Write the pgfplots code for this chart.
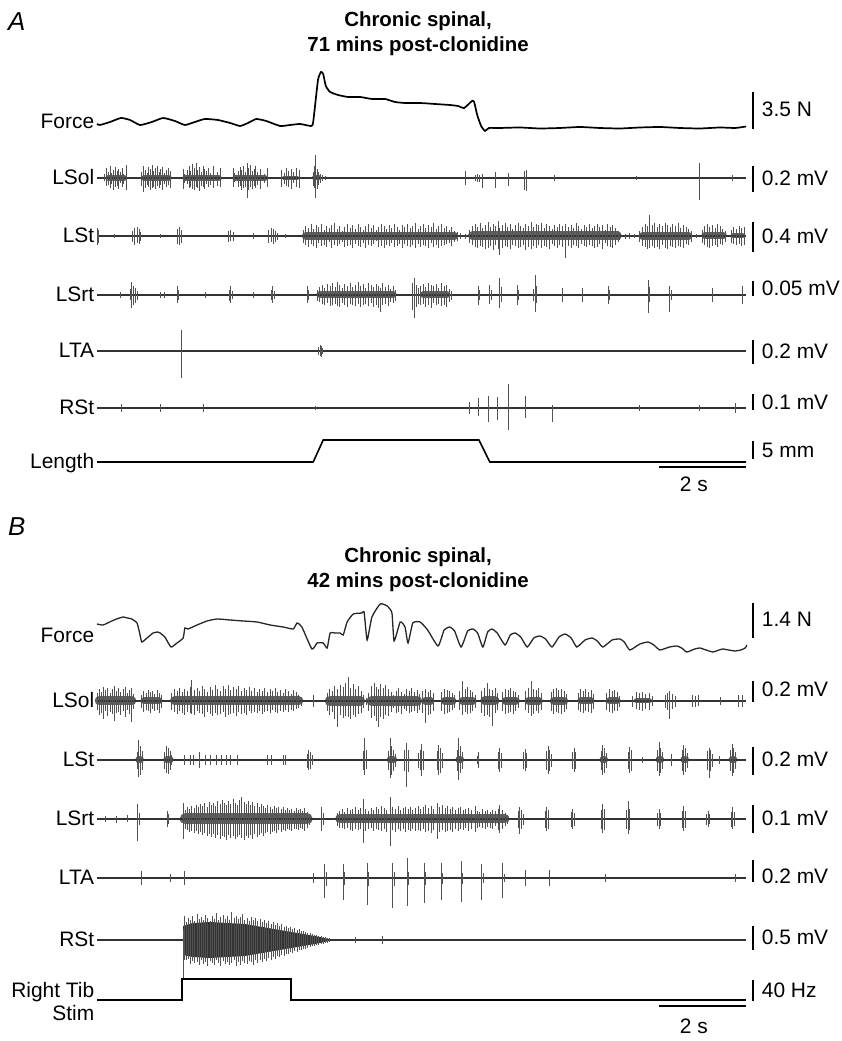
\documentclass[border=0pt]{standalone}
\usepackage{fontspec}
\setmainfont{Liberation Sans}
\usepackage{pgfplots}
\usepackage{pgfplotstable}
\pgfplotsset{compat=1.18}
\tikzset{
  lab/.style={font=\fontsize{21}{24}\selectfont, inner sep=0pt},
  ttl/.style={font=\bfseries\fontsize{20.5}{24}\selectfont, inner sep=0pt, anchor=base},
  pnl/.style={font=\itshape\fontsize{26}{30}\selectfont, inner sep=0pt, anchor=base west},
}

% Slow traces: t = time (s), y = vertical position of the trace
\pgfplotstableread[row sep=\\]{t y\\
0.00 -124\\ 0.07 -125\\ 0.30 -122\\ 0.55 -118\\ 0.76 -120\\ 0.99 -125\\ 1.26 -122\\ 1.52 -118\\
1.79 -121\\ 2.02 -125\\ 2.25 -122\\ 2.48 -119\\ 2.78 -120\\ 3.06 -123\\ 3.29 -126\\ 3.47 -123\\
3.66 -119\\ 3.89 -121\\ 4.21 -126\\ 4.44 -125\\ 4.67 -124\\ 4.92 -126\\ 4.97 -122\\ 5.08 -80\\
5.15 -72\\ 5.20 -74\\ 5.26 -86\\ 5.36 -92\\ 5.54 -95\\ 5.77 -97\\ 6.05 -97\\ 6.32 -99\\ 6.62 -99\\
6.85 -102\\ 7.08 -103\\ 7.43 -103\\ 7.77 -104\\ 8.11 -105\\ 8.30 -106\\ 8.44 -108\\ 8.62 -101\\
8.67 -102\\ 8.74 -115\\ 8.83 -126\\ 8.92 -131\\ 9.01 -128\\ 9.26 -128\\ 9.72 -127.5\\ 10.18 -128.5\\
10.64 -128\\ 11.10 -127\\ 11.56 -128\\ 12.02 -128.5\\ 12.48 -127.5\\ 12.94 -127\\ 13.40 -128\\
13.86 -128.5\\ 14.32 -127.5\\ 14.67 -128\\ 14.92 -126.5\\
}\AForce

\pgfplotstableread[row sep=\\]{t y\\
0.00 -462\\ 4.97 -462\\ 5.20 -440\\ 8.78 -440\\ 9.03 -462\\ 14.92 -462\\
}\ALength

\pgfplotstableread[row sep=\\]{t y\\
0.00 -624\\ 0.14 -625\\ 0.34 -621\\ 0.45 -619\\ 0.60 -617\\ 0.70 -618\\ 0.80 -619\\ 0.92 -623\\
0.98 -633\\ 1.03 -642\\ 1.15 -638\\ 1.29 -633\\ 1.40 -632\\ 1.45 -633\\ 1.56 -637\\ 1.70 -647\\
1.84 -643\\ 1.98 -638\\ 2.02 -628\\ 2.09 -629\\ 2.30 -625\\ 2.53 -621\\ 2.76 -619\\ 3.06 -620\\
3.36 -621\\ 3.68 -622\\ 3.98 -625\\ 4.28 -627\\ 4.51 -629\\ 4.60 -623\\ 4.71 -627\\ 4.94 -649\\
5.06 -643\\ 5.20 -643\\ 5.29 -648\\ 5.36 -633\\ 5.47 -633\\ 5.59 -633\\ 5.66 -635\\ 5.75 -622\\
5.89 -614\\ 6.09 -613\\ 6.14 -612\\ 6.21 -640\\ 6.32 -617\\ 6.51 -604\\ 6.67 -606\\ 6.78 -613\\
6.83 -641\\ 6.97 -622\\ 7.08 -627\\ 7.15 -643\\ 7.26 -623\\ 7.43 -622\\ 7.60 -630\\ 7.84 -646\\
7.98 -630\\ 8.11 -627\\ 8.22 -631\\ 8.37 -647\\ 8.52 -631\\ 8.64 -629\\ 8.75 -633\\ 8.87 -647\\
8.98 -632\\ 9.08 -629\\ 9.20 -633\\ 9.38 -645\\ 9.50 -635\\ 9.61 -633\\ 9.74 -637\\ 9.89 -647\\
10.04 -638\\ 10.18 -636\\ 10.31 -639\\ 10.46 -647\\ 10.62 -637\\ 10.76 -634\\ 10.90 -638\\
11.03 -647\\ 11.22 -640\\ 11.38 -638\\ 11.50 -641\\ 11.63 -647\\ 11.84 -640\\ 12.02 -639\\
12.12 -642\\ 12.25 -650\\ 12.48 -644\\ 12.67 -642\\ 12.80 -645\\ 12.94 -650\\ 13.16 -647\\
13.33 -646\\ 13.44 -648\\ 13.56 -652\\ 13.74 -649\\ 13.86 -648\\ 14.00 -650\\ 14.16 -652\\
14.30 -650\\ 14.39 -649\\ 14.52 -650\\ 14.67 -651\\ 14.80 -650\\ 14.90 -648\\ 14.94 -645\\
}\BForce

\pgfplotstableread[row sep=\\]{t y\\
0.00 -1000\\ 1.96 -1000\\ 1.96 -979\\ 4.46 -979\\ 4.46 -1000\\ 14.92 -1000\\
}\BStim

% EMG spikes: t = time (s), u / d = excursion above / below the baseline
\pgfplotstableread[row sep=\\]{t u d\\
0.18 4 3\\ 0.22 10 8\\ 0.26 6 7\\ 0.30 12 10\\ 0.34 5 6\\ 0.38 8 12\\ 0.42 11 9\\ 0.46 7 8\\
0.50 9 11\\ 0.54 6 5\\ 0.58 10 9\\ 0.62 4 6\\ 0.67 13 12\\
1.03 6 8\\ 1.07 12 14\\ 1.11 8 10\\ 1.15 5 7\\ 1.19 11 9\\ 1.23 9 12\\ 1.27 13 10\\ 1.31 7 9\\
1.35 10 11\\ 1.39 12 8\\ 1.43 6 10\\ 1.47 9 7\\ 1.51 11 12\\ 1.55 5 6\\ 1.59 8 9\\ 1.64 10 7\\ 1.70 7 10\\
1.98 9 11\\ 2.02 4 5\\ 2.08 8 6\\ 2.12 12 10\\ 2.16 7 9\\ 2.20 14 11\\ 2.24 10 12\\ 2.28 15 9\\
2.32 8 10\\ 2.36 11 13\\ 2.40 6 8\\ 2.44 12 9\\ 2.48 9 11\\ 2.52 7 6\\ 2.56 10 9\\ 2.62 5 7\\
2.68 12 10\\ 2.76 6 8\\ 2.85 10 9\\
3.13 10 9\\ 3.17 5 4\\ 3.25 7 9\\ 3.29 11 8\\ 3.33 8 12\\ 3.37 12 10\\ 3.41 6 9\\ 3.45 15 20\\
3.49 10 12\\ 3.53 13 9\\ 3.57 7 11\\ 3.61 9 8\\ 3.65 12 10\\ 3.70 6 7\\ 3.76 9 11\\ 3.84 4 5\\ 3.91 10 9\\
4.25 8 9\\ 4.30 5 6\\ 4.36 10 8\\ 4.41 7 9\\ 4.46 9 11\\ 4.52 6 5\\ 4.58 10 9\\ 4.65 8 10\\
4.97 6 8\\ 5.01 12 10\\ 5.03 23 20\\ 5.06 9 11\\ 5.10 6 7\\ 5.14 4 5\\ 5.19 3 3\\ 5.25 2 2\\
8.46 7 7\\ 8.69 3 3\\ 8.74 4 4\\ 8.80 3 4\\ 8.87 4 10\\ 9.17 6 10\\ 9.47 5 8\\ 9.82 7 12\\
9.87 8 13\\ 10.51 3 3\\ 12.41 2 2\\ 13.86 15 22\\ 14.60 3 3\\
}\ALSol

\pgfplotstableread[row sep=\\]{t u d\\
0.00 8 9\\ 0.04 6 7\\ 0.40 2 2\\ 0.82 5 6\\ 0.87 8 9\\ 0.92 9 7\\ 0.97 7 8\\ 1.01 4 5\\ 1.45 2 2\\
1.84 7 8\\ 1.89 9 9\\ 1.94 6 7\\ 3.03 5 6\\ 3.08 6 5\\ 3.13 4 5\\ 3.59 3 3\\ 3.95 6 7\\ 4.00 8 6\\
4.05 7 8\\ 4.10 5 6\\ 4.15 3 4\\ 4.34 2 2\\
4.74 6 7\\ 4.80 10 9\\ 4.86 8 11\\ 4.92 12 8\\ 4.98 7 10\\ 5.04 11 12\\ 5.10 9 7\\ 5.16 12 10\\
5.22 6 9\\ 5.28 10 11\\ 5.34 8 6\\ 5.40 11 12\\ 5.46 13 9\\ 5.52 7 10\\ 5.58 10 8\\ 5.64 5 6\\
5.70 9 11\\ 5.76 12 10\\ 5.82 8 9\\ 5.88 11 12\\ 5.94 7 8\\ 6.00 12 10\\ 6.06 9 11\\ 6.12 6 7\\
6.18 10 12\\ 6.24 12 9\\ 6.30 8 10\\ 6.36 11 8\\ 6.42 6 5\\ 6.48 9 11\\ 6.54 12 10\\ 6.60 10 12\\
6.66 7 9\\ 6.72 11 10\\ 6.78 8 7\\ 6.84 12 11\\ 6.90 9 10\\ 6.96 6 8\\ 7.02 11 12\\ 7.08 9 8\\
7.14 12 10\\ 7.20 8 11\\ 7.26 10 9\\ 7.32 13 12\\ 7.38 7 8\\ 7.44 10 11\\ 7.50 12 9\\ 7.56 8 10\\
7.62 11 12\\ 7.68 9 7\\ 7.74 13 11\\ 7.80 7 9\\ 7.86 10 12\\ 7.92 12 10\\ 7.98 8 9\\ 8.04 10 8\\
8.10 6 7\\ 8.16 9 10\\ 8.22 5 6\\ 8.28 4 5\\ 8.36 3 3\\ 8.46 2 3\\
8.57 6 7\\ 8.63 10 9\\ 8.69 12 11\\ 8.75 9 12\\ 8.81 13 10\\ 8.87 8 11\\ 8.93 11 13\\ 8.99 14 12\\
9.05 9 10\\ 9.11 12 14\\ 9.17 10 9\\ 9.23 15 13\\ 9.26 8 19\\ 9.32 11 12\\ 9.38 13 10\\ 9.44 9 11\\
9.50 12 13\\ 9.56 7 9\\ 9.62 11 10\\ 9.68 13 12\\ 9.74 10 11\\ 9.80 8 9\\ 9.86 12 14\\ 9.92 10 11\\
9.98 14 13\\ 10.04 9 10\\ 10.10 12 12\\ 10.16 11 9\\ 10.22 13 12\\ 10.28 8 10\\ 10.34 12 11\\
10.40 10 13\\ 10.46 7 8\\ 10.52 11 10\\ 10.58 9 12\\ 10.64 12 9\\ 10.70 10 11\\ 10.78 12 22\\
10.84 9 10\\ 10.90 11 12\\ 10.96 8 9\\ 11.02 13 10\\ 11.08 10 12\\ 11.14 7 8\\ 11.20 11 10\\
11.26 9 11\\ 11.32 12 9\\ 11.38 8 10\\ 11.44 10 12\\ 11.50 12 11\\ 11.56 9 8\\ 11.62 11 13\\
11.68 6 7\\ 11.74 12 10\\ 11.80 9 11\\ 11.86 11 12\\ 11.92 8 9\\ 11.98 5 6\\ 12.02 3 4\\
12.14 2 3\\ 12.25 3 3\\ 12.36 2 2\\
12.48 5 6\\ 12.54 9 10\\ 12.60 12 11\\ 12.66 10 13\\ 12.71 21 12\\ 12.76 11 10\\ 12.82 13 12\\
12.88 9 11\\ 12.94 12 13\\ 13.00 10 9\\ 13.06 13 12\\ 13.12 11 13\\ 13.18 9 10\\ 13.24 12 11\\
13.30 10 12\\ 13.36 13 10\\ 13.42 8 11\\ 13.48 11 12\\ 13.54 9 8\\ 13.60 7 9\\ 13.66 5 6\\ 13.78 2 2\\
13.91 6 7\\ 13.97 10 9\\ 14.03 12 11\\ 14.09 9 12\\ 14.15 11 10\\ 14.21 8 9\\ 14.27 12 11\\
14.33 10 8\\ 14.39 7 9\\ 14.45 5 6\\ 14.58 6 7\\ 14.64 9 8\\ 14.70 7 9\\ 14.76 10 8\\ 14.82 8 10\\ 14.88 9 9\\
}\ALSt

\pgfplotstableread[row sep=\\]{t u d\\
0.53 3 3\\ 0.76 6 5\\ 0.80 13 13\\ 0.84 9 10\\ 0.88 7 8\\ 0.92 4 5\\ 1.45 3 3\\ 1.55 3 3\\
1.84 9 8\\ 1.88 5 5\\ 2.50 3 3\\ 3.04 5 6\\ 3.08 9 8\\ 3.12 4 4\\ 3.60 3 3\\ 4.00 5 5\\ 4.03 9 8\\
4.07 4 4\\ 4.83 9 8\\ 4.87 5 5\\
5.06 5 6\\ 5.12 8 7\\ 5.18 10 9\\ 5.24 7 10\\ 5.30 11 8\\ 5.36 9 11\\ 5.42 12 10\\ 5.48 8 9\\
5.52 13 11\\ 5.58 10 12\\ 5.64 7 8\\ 5.70 11 10\\ 5.76 9 12\\ 5.82 12 9\\ 5.88 8 10\\ 5.94 10 11\\
6.00 13 9\\ 6.06 9 12\\ 6.12 11 10\\ 6.18 7 9\\ 6.24 12 11\\ 6.30 10 8\\ 6.36 8 12\\ 6.42 11 10\\
6.48 9 13\\ 6.51 7 17\\ 6.57 12 10\\ 6.63 8 9\\ 6.69 10 11\\ 6.75 6 7\\ 6.81 9 8\\ 6.87 5 6\\
7.26 12 15\\ 7.30 17 23\\ 7.34 10 12\\ 7.38 7 9\\
7.44 9 10\\ 7.50 11 9\\ 7.56 8 12\\ 7.62 12 10\\ 7.68 10 13\\ 7.74 9 8\\ 7.80 11 10\\ 7.86 7 9\\
7.92 12 11\\ 7.98 9 10\\ 8.04 10 12\\ 8.10 6 7\\ 8.16 4 5\\
8.76 9 10\\ 8.80 5 5\\ 9.03 10 9\\ 9.07 5 5\\ 9.26 17 13\\ 9.30 8 7\\ 9.66 10 10\\ 9.70 5 5\\
10.03 6 6\\ 10.07 20 17\\ 10.11 9 8\\ 10.71 7 7\\ 11.17 7 7\\ 11.75 9 9\\ 11.79 5 5\\
12.67 15 18\\ 12.71 8 7\\ 13.17 9 17\\ 13.21 5 5\\ 14.14 7 7\\ 14.85 9 9\\
}\ALSrt

\pgfplotstableread[row sep=\\]{t u d\\
1.95 21 27\\ 5.10 4 4\\ 5.13 6 5\\ 5.16 5 6\\ 5.19 3 3\\
}\ALTA

\pgfplotstableread[row sep=\\]{t u d\\
0.57 4 4\\ 1.45 4 4\\ 2.44 4 4\\ 5.03 2 2\\ 8.57 6 6\\ 8.76 10 8\\ 9.01 12 14\\ 9.20 11 12\\
9.45 24 22\\ 9.84 12 10\\ 10.48 3 14\\ 12.48 3 3\\ 13.86 3 3\\ 14.67 5 5\\
}\ARSt

\pgfplotstableread[row sep=\\]{t u d\\
0.00 8 9\\ 0.05 12 14\\ 0.10 9 12\\ 0.15 14 18\\ 0.20 11 10\\ 0.25 13 15\\ 0.30 8 11\\ 0.35 12 13\\
0.40 15 20\\ 0.45 10 12\\ 0.50 13 11\\ 0.55 9 14\\ 0.60 12 10\\ 0.65 14 16\\ 0.70 8 9\\ 0.75 11 13\\
0.80 13 21\\ 0.85 7 8\\
1.03 6 7\\ 1.08 10 11\\ 1.13 8 9\\ 1.18 11 10\\ 1.23 9 12\\ 1.28 10 8\\ 1.33 7 10\\ 1.38 11 9\\
1.43 8 12\\ 1.48 6 7\\
1.72 8 9\\ 1.78 12 11\\ 1.84 10 13\\ 1.90 13 10\\ 1.96 9 12\\ 2.02 12 14\\ 2.08 10 11\\ 2.14 14 12\\
2.18 21 13\\ 2.24 11 14\\ 2.30 13 10\\ 2.36 10 12\\ 2.42 15 13\\ 2.48 12 16\\ 2.54 9 11\\ 2.60 14 13\\
2.66 11 15\\ 2.72 16 12\\ 2.78 12 14\\ 2.84 10 13\\ 2.90 15 11\\ 2.96 12 16\\ 3.02 16 14\\ 3.08 11 13\\
3.14 14 12\\ 3.20 12 15\\ 3.26 15 11\\ 3.32 10 13\\ 3.38 13 12\\ 3.44 11 14\\ 3.50 14 10\\ 3.56 10 12\\
3.62 13 11\\ 3.68 9 12\\ 3.74 12 10\\ 3.80 10 13\\ 3.86 13 11\\ 3.92 9 10\\ 3.98 12 12\\ 4.04 10 9\\
4.10 13 11\\ 4.16 9 12\\ 4.22 11 10\\ 4.28 8 11\\ 4.34 12 9\\ 4.40 10 11\\ 4.46 7 9\\ 4.52 11 10\\
4.58 9 8\\ 4.64 6 7\\ 4.70 4 5\\ 4.97 6 6\\
5.29 8 10\\ 5.35 12 14\\ 5.41 10 11\\ 5.47 15 18\\ 5.54 12 26\\ 5.60 16 14\\ 5.66 14 17\\ 5.72 18 15\\
5.77 24 16\\ 5.83 13 18\\ 5.89 17 14\\ 5.95 12 16\\ 6.01 15 13\\ 6.07 10 12\\ 6.13 6 7\\ 6.19 3 4\\
6.25 8 10\\ 6.31 15 17\\ 6.37 18 15\\ 6.43 14 20\\ 6.46 12 26\\ 6.52 17 16\\ 6.58 13 18\\ 6.64 16 14\\
6.70 12 15\\ 6.76 9 11\\ 6.82 6 7\\ 6.88 10 12\\ 6.94 13 11\\ 7.00 9 13\\ 7.06 7 8\\ 7.12 12 10\\
7.18 10 12\\ 7.24 13 11\\ 7.30 9 10\\ 7.36 11 12\\ 7.42 7 9\\
7.49 10 12\\ 7.55 12 22\\ 7.61 9 14\\ 7.67 11 13\\ 7.73 8 10\\
7.93 9 10\\ 7.99 12 13\\ 8.05 11 12\\ 8.11 10 11\\ 8.17 8 9\\ 8.22 6 7\\
8.34 10 9\\ 8.40 20 14\\ 8.46 12 11\\ 8.52 14 13\\ 8.58 11 12\\ 8.64 9 10\\ 8.69 6 7\\
8.85 10 12\\ 8.91 13 15\\ 8.97 18 14\\ 9.03 12 16\\ 9.09 11 25\\ 9.15 13 12\\ 9.20 8 9\\
9.33 9 10\\ 9.39 12 13\\ 9.45 11 12\\ 9.51 13 11\\ 9.57 10 13\\ 9.63 9 10\\ 9.68 6 7\\
9.86 10 9\\ 9.92 13 12\\ 9.98 20 15\\ 10.04 12 13\\ 10.10 11 10\\ 10.16 13 12\\ 10.22 8 9\\
10.44 9 10\\ 10.50 12 13\\ 10.56 13 11\\ 10.62 11 12\\ 10.68 12 13\\ 10.74 10 11\\ 10.80 7 8\\
11.06 8 9\\ 11.12 12 11\\ 11.18 10 12\\ 11.24 12 10\\ 11.30 9 11\\ 11.36 11 12\\ 11.42 7 8\\
11.72 8 9\\ 11.78 12 11\\ 11.84 10 12\\ 11.90 11 10\\ 11.96 9 10\\ 12.02 5 6\\
12.32 5 6\\ 12.40 9 8\\ 12.47 8 9\\ 12.54 9 10\\ 12.62 7 8\\ 12.70 8 9\\ 12.76 5 5\\
13.06 6 7\\ 13.12 8 9\\ 13.15 10 18\\ 13.22 7 8\\ 13.30 5 6\\ 13.70 6 6\\ 13.76 5 6\\ 13.82 6 5\\
14.34 4 4\\ 14.74 6 6\\ 14.85 6 6\\
}\BLSol

\pgfplotstableread[row sep=\\]{t u d\\
0.92 8 9\\ 0.96 20 17\\ 1.00 14 15\\ 1.04 9 10\\ 1.56 8 9\\ 1.60 14 13\\ 1.64 12 14\\ 1.68 9 10\\
1.72 5 5\\ 2.02 5 5\\ 2.14 5 5\\ 2.22 5 5\\ 2.35 8 8\\ 2.50 5 5\\ 2.62 5 5\\ 2.75 5 5\\ 2.87 5 5\\
2.97 5 5\\ 3.08 5 5\\ 3.22 5 5\\ 3.93 5 5\\ 4.02 5 5\\ 4.28 5 5\\ 4.34 5 5\\
4.83 6 8\\ 4.87 10 10\\ 4.91 8 9\\ 4.95 5 5\\ 6.12 9 10\\ 6.16 22 15\\ 6.20 10 9\\
6.70 9 10\\ 6.74 22 18\\ 6.78 14 15\\ 6.82 10 11\\ 6.86 6 7\\ 7.08 10 11\\ 7.12 17 27\\ 7.16 10 12\\
7.40 7 8\\ 7.43 10 10\\ 7.47 16 16\\ 7.51 9 10\\ 7.82 9 10\\ 7.86 15 15\\ 7.90 12 13\\ 7.94 7 8\\
8.28 10 11\\ 8.32 22 20\\ 8.36 14 13\\ 8.40 8 9\\ 8.74 4 4\\ 8.78 8 8\\ 9.22 8 9\\ 9.26 12 12\\
9.30 7 8\\ 9.80 8 9\\ 9.84 11 11\\ 9.88 7 8\\ 10.33 9 10\\ 10.37 14 14\\ 10.41 10 11\\ 10.45 6 7\\
10.93 8 9\\ 10.97 12 12\\ 11.01 8 9\\ 11.59 9 10\\ 11.63 15 15\\ 11.67 12 13\\ 11.71 7 8\\
12.21 8 9\\ 12.25 13 13\\ 12.29 10 11\\ 12.53 3 3\\ 12.88 10 11\\ 12.92 18 16\\ 12.96 12 13\\
13.00 8 9\\ 13.20 6 6\\ 13.45 10 11\\ 13.49 15 15\\ 13.53 12 12\\ 13.57 7 8\\ 14.03 9 10\\
14.07 12 18\\ 14.11 10 11\\ 14.15 6 7\\ 14.32 4 4\\ 14.56 10 11\\ 14.60 16 16\\ 14.64 12 13\\ 14.68 8 9\\
}\BLSt

\pgfplotstableread[row sep=\\]{t u d\\
0.20 3 3\\ 0.45 3 4\\ 0.70 4 3\\ 0.94 15 22\\ 0.98 6 6\\ 1.61 8 8\\ 1.65 5 5\\
1.98 16 20\\ 2.03 9 10\\ 2.08 12 11\\ 2.13 10 13\\ 2.18 13 12\\ 2.23 11 14\\ 2.28 14 12\\ 2.33 12 15\\
2.38 15 13\\ 2.43 13 16\\ 2.48 16 14\\ 2.53 12 17\\ 2.58 17 15\\ 2.63 14 18\\ 2.68 16 15\\ 2.73 13 19\\
2.78 18 16\\ 2.83 15 20\\ 2.88 19 17\\ 2.93 16 18\\ 2.98 14 21\\ 3.03 18 16\\ 3.08 15 19\\ 3.13 20 17\\
3.18 16 20\\ 3.23 14 18\\ 3.28 19 16\\ 3.33 22 19\\ 3.38 17 21\\ 3.43 15 17\\ 3.48 18 19\\ 3.53 14 16\\
3.58 17 20\\ 3.63 13 15\\ 3.68 16 18\\ 3.73 12 16\\ 3.78 15 14\\ 3.83 13 17\\ 3.88 11 14\\ 3.93 14 13\\
3.98 12 15\\ 4.03 10 13\\ 4.08 13 12\\ 4.13 11 14\\ 4.18 12 11\\ 4.23 10 13\\ 4.28 12 11\\ 4.33 9 12\\
4.38 11 10\\ 4.43 9 11\\ 4.48 10 12\\ 4.53 8 10\\ 4.58 11 10\\ 4.63 9 11\\ 4.68 10 9\\ 4.73 8 10\\
4.78 11 12\\ 4.83 7 9\\ 4.88 5 6\\ 5.17 12 12\\ 5.21 6 6\\
5.52 6 7\\ 5.58 8 9\\ 5.64 10 9\\ 5.70 7 10\\ 5.76 11 9\\ 5.82 9 11\\ 5.88 10 12\\ 5.94 12 10\\
6.00 9 11\\ 6.06 11 10\\ 6.12 20 24\\ 6.18 10 12\\ 6.24 8 10\\ 6.30 11 9\\ 6.36 9 12\\ 6.42 12 10\\
6.48 10 11\\ 6.54 13 12\\ 6.60 11 10\\ 6.66 9 13\\ 6.74 22 27\\ 6.80 12 11\\ 6.86 10 13\\ 6.92 13 10\\
6.98 9 12\\ 7.04 11 10\\ 7.10 12 13\\ 7.16 10 11\\ 7.20 12 12\\ 7.26 9 10\\ 7.32 11 12\\ 7.38 13 11\\
7.44 10 12\\ 7.50 12 10\\ 7.56 14 13\\ 7.62 11 12\\ 7.68 13 14\\ 7.74 10 11\\ 7.82 16 20\\ 7.88 12 13\\
7.94 14 11\\ 8.00 11 13\\ 8.06 13 12\\ 8.12 10 11\\ 8.18 12 13\\ 8.24 9 10\\ 8.30 11 12\\ 8.36 12 10\\
8.42 9 11\\ 8.48 10 9\\ 8.54 11 12\\ 8.60 9 10\\ 8.69 13 13\\ 8.74 8 9\\ 8.80 7 8\\ 8.86 10 9\\
8.92 8 10\\ 8.98 9 8\\ 9.04 7 9\\ 9.10 9 10\\ 9.16 8 7\\ 9.22 10 11\\ 9.26 14 14\\ 9.32 9 10\\
9.38 6 7\\ 9.43 4 5\\
9.68 8 9\\ 9.72 12 15\\ 9.76 9 10\\ 9.80 5 6\\ 10.30 8 9\\ 10.34 12 12\\ 10.38 9 10\\
10.90 7 8\\ 10.94 10 10\\ 10.98 6 7\\ 11.59 9 10\\ 11.63 15 14\\ 11.67 10 11\\
12.17 9 10\\ 12.21 18 15\\ 12.25 10 11\\ 12.88 6 7\\ 12.92 10 10\\ 12.96 6 7\\
13.45 8 9\\ 13.49 13 12\\ 13.53 8 9\\ 14.01 5 6\\ 14.05 8 8\\ 14.09 5 5\\
14.58 7 8\\ 14.62 12 10\\ 14.66 7 7\\
}\BLSrt

\pgfplotstableread[row sep=\\]{t u d\\
1.03 7 7\\ 1.70 4 4\\ 2.00 7 7\\ 4.97 5 5\\ 5.24 14 20\\ 5.28 6 8\\ 5.66 14 22\\ 5.70 6 7\\
6.21 15 27\\ 6.25 6 8\\ 6.80 15 30\\ 6.84 6 8\\ 7.13 20 28\\ 7.17 6 7\\ 7.52 15 25\\ 7.56 6 7\\
7.91 15 22\\ 7.95 5 6\\ 8.37 17 24\\ 8.41 5 6\\ 8.85 14 22\\ 8.89 5 5\\ 9.33 15 20\\ 9.37 4 4\\
9.86 8 8\\ 10.41 8 8\\ 11.70 4 4\\ 14.67 4 4\\
}\BLTA

\pgfplotstableread[row sep=\\]{t u d\\
1.98 10 38\\ 2.01 24 20\\ 2.05 18 20\\ 2.10 22 19\\ 2.15 20 24\\ 2.20 24 21\\ 2.25 19 23\\ 2.30 26 22\\
2.35 21 25\\ 2.40 23 20\\ 2.45 20 24\\ 2.50 25 22\\ 2.55 22 26\\ 2.60 19 21\\ 2.65 24 23\\ 2.70 21 25\\
2.75 27 20\\ 2.80 20 23\\ 2.85 23 26\\ 2.90 25 21\\ 2.95 21 24\\ 3.00 24 22\\ 3.05 20 25\\ 3.10 28 23\\
3.15 22 20\\ 3.20 24 26\\ 3.25 21 22\\ 3.30 23 25\\ 3.35 26 21\\ 3.40 20 23\\ 3.45 22 24\\ 3.50 19 21\\
3.55 23 22\\ 3.60 20 25\\ 3.65 22 20\\ 3.70 19 23\\ 3.75 21 20\\ 3.80 18 22\\ 3.85 20 19\\ 3.90 17 21\\
3.95 19 18\\ 4.00 16 20\\ 4.05 18 17\\ 4.10 15 19\\ 4.15 17 16\\ 4.20 14 17\\ 4.25 16 15\\ 4.30 13 16\\
4.35 14 14\\ 4.40 12 14\\ 4.45 13 12\\ 4.50 11 13\\ 4.55 12 11\\ 4.60 10 12\\ 4.65 11 10\\ 4.70 9 10\\
4.75 9 9\\ 4.80 8 9\\ 4.85 7 8\\ 4.90 7 7\\ 4.95 6 6\\ 5.00 5 6\\ 5.05 5 5\\ 5.10 4 5\\ 5.15 4 4\\
5.20 3 4\\ 5.25 3 3\\ 5.30 2 3\\ 5.35 2 2\\ 5.95 3 3\\ 6.57 4 4\\
}\BRSt

\newcommand\emg[4]{% spike table, baseline depth, spike width, baseline width
  \addplot[black!80, line width=#4, forget plot] coordinates {(0,-#2) (14.92,-#2)};
  \addplot[draw=none, mark=none, forget plot,
    error bars/.cd, y dir=both, y explicit, error mark=none,
    error bar style={draw=black!68, line width=#3, line cap=butt}]
    table[x=t, y expr=-#2, y error plus=u, y error minus=d] {#1};}
% dense core of a burst: start, end, baseline depth, band width
\newcommand\core[4]{%
  \addplot[black!62, line width=#4, line cap=round, forget plot] coordinates {(#1,-#3) (#2,-#3)};}
\newcommand\sbar[4]{% top, bottom, label baseline, text
  \addplot[black, line width=1.5bp, forget plot] coordinates {(15.08,-#1) (15.08,-#2)};
  \node[lab, anchor=base west] at (axis cs:15.28,-#3) {#4};}
\newcommand\rlab[2]{\node[lab, anchor=base east] at (axis cs:-0.06,-#1) {#2};}

\begin{document}
\begin{tikzpicture}
\begin{axis}[
  x=43.5bp, y=1bp,
  xmin=-2.2299, xmax=17.1034, ymin=-1041, ymax=0,
  hide axis, clip=false,
]
\path (rel axis cs:0,0) rectangle (rel axis cs:1,1);

% ---------- A ----------
\node[pnl] at (axis cs:-2.05,-31) {A};
\node[ttl] at (axis cs:7.38,-27) {Chronic spinal,};
\node[ttl] at (axis cs:7.38,-52) {71 mins post-clonidine};

\addplot[black, line width=1.7bp, smooth, tension=0.3] table[x=t, y=y] {\AForce};

\core{0.26}{0.62}{178}{6bp}\core{1.08}{1.65}{178}{6bp}\core{2.03}{2.80}{178}{6bp}
\core{3.18}{3.86}{178}{6bp}\core{4.30}{4.60}{178}{4bp}\core{5.00}{5.10}{178}{5bp}
\emg{\ALSol}{178}{1bp}{1.1bp}

\core{4.80}{8.22}{236}{8bp}\core{8.63}{11.96}{236}{9bp}\core{12.54}{13.60}{236}{8bp}
\core{13.97}{14.40}{236}{7bp}\core{14.62}{14.84}{236}{5bp}
\emg{\ALSt}{236}{1bp}{1.2bp}

\core{5.12}{6.81}{295}{7bp}\core{7.50}{8.04}{295}{7bp}
\emg{\ALSrt}{295}{1bp}{2bp}
\emg{\ALTA}{351}{1bp}{1.1bp}
\emg{\ARSt}{408}{1bp}{1.1bp}
\addplot[black, line width=1.6bp] table[x=t, y=y] {\ALength};

\rlab{129}{Force}
\rlab{185}{LSol}
\rlab{243}{LSt}
\rlab{302}{LSrt}
\rlab{358}{LTA}
\rlab{415}{RSt}
\rlab{469}{Length}

\sbar{92}{129}{117}{3.5 N}
\sbar{166}{192}{186}{0.2 mV}
\sbar{222}{252}{244}{0.4 mV}
\sbar{281}{296}{296}{0.05 mV}
\sbar{340}{364}{359}{0.2 mV}
\sbar{394}{410}{410}{0.1 mV}
\sbar{441}{459}{458}{5 mm}

\addplot[black, line width=1.4bp] coordinates {(12.92,-467) (14.92,-467)};
\node[lab, anchor=base] at (axis cs:13.72,-492) {2 s};

% ---------- B ----------
\node[pnl] at (axis cs:-2.05,-536) {B};
\node[ttl] at (axis cs:7.38,-563) {Chronic spinal,};
\node[ttl] at (axis cs:7.38,-588) {42 mins post-clonidine};

\addplot[black!85, line width=1.3bp, smooth, tension=0.3] table[x=t, y=y] {\BForce};

\core{0.05}{0.80}{701}{9bp}\core{1.08}{1.43}{701}{7bp}\core{1.78}{4.64}{701}{9bp}
\core{5.35}{6.05}{701}{10bp}\core{6.31}{7.36}{701}{10bp}\core{7.55}{7.67}{701}{8bp}
\core{7.99}{8.17}{701}{8bp}\core{8.40}{8.64}{701}{8bp}\core{8.91}{9.15}{701}{9bp}
\core{9.39}{9.63}{701}{8bp}\core{9.92}{10.16}{701}{8bp}\core{10.50}{10.74}{701}{8bp}
\core{11.12}{11.36}{701}{7bp}\core{11.78}{11.96}{701}{7bp}\core{12.40}{12.70}{701}{5bp}
\emg{\BLSol}{701}{1bp}{1.2bp}

\core{0.96}{1.00}{760}{7bp}\core{1.60}{1.68}{760}{7bp}\core{6.74}{6.82}{760}{7bp}
\core{8.32}{8.36}{760}{7bp}\core{11.63}{11.67}{760}{7bp}\core{12.92}{12.96}{760}{7bp}
\core{13.49}{13.53}{760}{7bp}\core{14.60}{14.64}{760}{7bp}
\emg{\BLSt}{760}{1bp}{1.2bp}

\core{2.03}{4.83}{819}{11bp}\core{5.58}{9.38}{819}{9bp}
\emg{\BLSrt}{819}{1bp}{2.4bp}
\emg{\BLTA}{878}{1bp}{1.1bp}

\addplot[draw=none, fill=black!80, forget plot] coordinates {
  (1.98,-926) (2.2,-923) (2.6,-922) (3.0,-923) (3.4,-924) (3.8,-927) (4.2,-930) (4.6,-933)
  (5.0,-936) (5.35,-939) (5.35,-941) (5.0,-944) (4.6,-947) (4.2,-950) (3.8,-953) (3.4,-956)
  (3.0,-957) (2.6,-958) (2.2,-957) (1.98,-955)} -- cycle;
\emg{\BRSt}{940}{1bp}{1.1bp}
\addplot[black, line width=1.6bp] table[x=t, y=y] {\BStim};

\rlab{643}{Force}
\rlab{708}{LSol}
\rlab{767}{LSt}
\rlab{826}{LSrt}
\rlab{885}{LTA}
\rlab{947}{RSt}
\rlab{998}{Right Tib}
\rlab{1021}{Stim}

\sbar{603}{638}{627}{1.4 N}
\sbar{681}{702}{697}{0.2 mV}
\sbar{747}{775}{767}{0.2 mV}
\sbar{805}{833}{826}{0.1 mV}
\sbar{860}{882}{884}{0.2 mV}
\sbar{926}{950}{945}{0.5 mV}
\sbar{980}{1001}{998}{40 Hz}

\addplot[black, line width=1.4bp] coordinates {(12.92,-1006) (14.92,-1006)};
\node[lab, anchor=base] at (axis cs:13.72,-1034) {2 s};
\end{axis}
\end{tikzpicture}
\end{document}
